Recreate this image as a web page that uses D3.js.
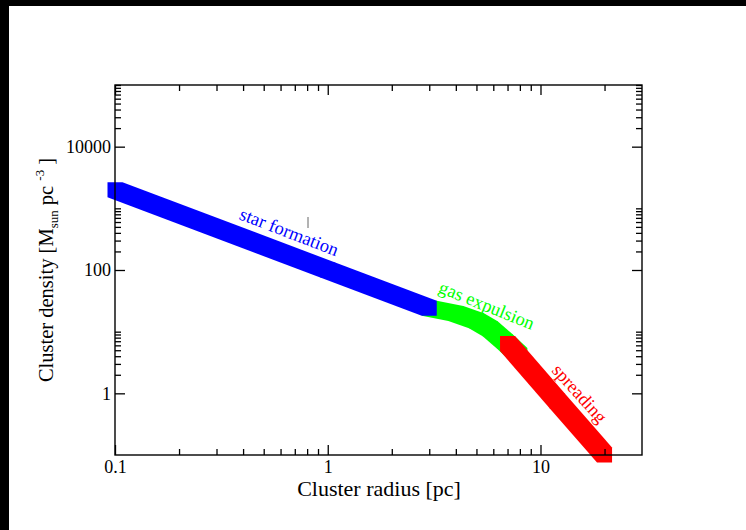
<!DOCTYPE html>
<html>
<head>
<meta charset="utf-8">
<script src="https://cdn.jsdelivr.net/npm/d3@7"></script>
<style>
	body { margin: 0; background: #fff; }
	svg { display: block; font-family: "Liberation Serif", "Times New Roman", serif; }
	.axis text { font-size: 18px; fill: #000; font-family: "Liberation Serif", serif; }
	.axis line { stroke: #000; stroke-width: 1.3; }
	.axis path { display: none; }
</style>
</head>
<body>
<svg id="chart" width="746" height="530"></svg>
<script>
// evolution tracks: radius [pc] vs density [Msun pc^-3]
const starFormationR = [0.1, 1, 3];
const starFormationRho = [2000, 100, 24];
const gasExpulsionR = [3, 4, 5, 5.8, 6.8, 8];
const gasExpulsionRho = [24, 19.7, 15, 11.2, 6.9, 4.1];
const spreadingR = [7, 12, 20];
const spreadingRho = [6.4, 0.75, 0.1];

// ticks
const xMajor = [0.1, 1, 10];
const xMinor = [0.2, 0.3, 0.4, 0.5, 0.6, 0.7, 0.8, 0.9, 2, 3, 4, 5, 6, 7, 8, 9, 20];
const yMajor = [1, 100, 10000];
const yMinor = [2, 3, 4, 5, 6, 7, 8, 9, 10, 200, 300, 400, 500, 600, 700, 800, 900, 1000,
	20000, 30000, 40000, 50000, 60000, 70000, 80000, 90000, 100000];

const margin = { top: 85, right: 104, bottom: 75, left: 115 };
const W = 746, H = 530;
const width = W - margin.left - margin.right;
const height = H - margin.top - margin.bottom;
const pen = 7.5; // half size of the square pen

const svg = d3.select('#chart');

// black edges of the original screenshot
svg.append('rect').attr('x', 0).attr('y', 0).attr('width', W).attr('height', 6).attr('fill', '#000');
svg.append('rect').attr('x', 0).attr('y', 0).attr('width', 9).attr('height', H).attr('fill', '#000');

const g = svg.append('g').attr('transform', `translate(${margin.left},${margin.top})`);

const x = d3.scaleLog().domain([0.1, 30]).range([0, width]);
const y = d3.scaleLog().domain([0.1, 1e5]).range([height, 0]);

// tracks drawn as a square pen swept along the points
const trackPolys = (rs, rhos) => {
	const pts = rs.map((r, i) => [x(r), y(rhos[i])]);
	const sq = p => [[p[0] - pen, p[1] - pen], [p[0] + pen, p[1] - pen],
		[p[0] + pen, p[1] + pen], [p[0] - pen, p[1] + pen]];
	return d3.pairs(pts).map(([a, b]) => d3.polygonHull(sq(a).concat(sq(b))));
};

const tracks = [
	{ r: gasExpulsionR, rho: gasExpulsionRho, color: '#00ff00' },
	{ r: starFormationR, rho: starFormationRho, color: '#0000ff' },
	{ r: spreadingR, rho: spreadingRho, color: '#ff0000' }
];

tracks.forEach(t => {
	g.append('g')
		.selectAll('path')
		.data(trackPolys(t.r, t.rho))
		.join('path')
			.attr('d', p => 'M' + p.join('L') + 'Z')
			.attr('fill', t.color);
});

// frame
g.append('rect')
	.attr('width', width)
	.attr('height', height)
	.attr('fill', 'none')
	.attr('stroke', '#000')
	.attr('stroke-width', 1.4);

// major + minor ticks, pointing inward
g.append('g').attr('class', 'axis').attr('transform', `translate(0,${height})`)
	.call(d3.axisBottom(x).tickValues(xMajor).tickSizeInner(-10).tickSizeOuter(0)
		.tickPadding(5).tickFormat(d => d));
g.append('g').attr('class', 'axis').attr('transform', `translate(0,${height})`)
	.call(d3.axisBottom(x).tickValues(xMinor).tickSizeInner(-6).tickSizeOuter(0).tickFormat(''));
g.append('g').attr('class', 'axis')
	.call(d3.axisTop(x).tickValues(xMajor).tickSizeInner(-10).tickSizeOuter(0).tickFormat(''));
g.append('g').attr('class', 'axis')
	.call(d3.axisTop(x).tickValues(xMinor).tickSizeInner(-6).tickSizeOuter(0).tickFormat(''));

g.append('g').attr('class', 'axis')
	.call(d3.axisLeft(y).tickValues(yMajor).tickSizeInner(-10).tickSizeOuter(0)
		.tickPadding(4).tickFormat(d => d));
g.append('g').attr('class', 'axis')
	.call(d3.axisLeft(y).tickValues(yMinor).tickSizeInner(-6).tickSizeOuter(0).tickFormat(''));
g.append('g').attr('class', 'axis').attr('transform', `translate(${width},0)`)
	.call(d3.axisRight(y).tickValues(yMajor).tickSizeInner(-10).tickSizeOuter(0).tickFormat(''));
g.append('g').attr('class', 'axis').attr('transform', `translate(${width},0)`)
	.call(d3.axisRight(y).tickValues(yMinor).tickSizeInner(-6).tickSizeOuter(0).tickFormat(''));

// stage labels
const labels = [
	{ text: 'star formation', r: 0.66, rho: 420, angle: 21, color: '#0000ff' },
	{ text: 'gas expulsion', r: 5.6, rho: 27, angle: 22, color: '#00ff00' },
	{ text: 'spreading', r: 15.3, rho: 1.0, angle: 48, color: '#ff0000' }
];
g.selectAll('.stage')
	.data(labels)
	.join('text')
		.attr('class', 'stage')
		.attr('transform', d => `translate(${x(d.r)},${y(d.rho)}) rotate(${d.angle})`)
		.attr('text-anchor', 'middle')
		.attr('dy', '0.35em')
		.attr('font-size', 18.5)
		.attr('fill', d => d.color)
		.text(d => d.text);

// small stray mark in the original
g.append('line')
	.attr('x1', 193).attr('x2', 193).attr('y1', 132).attr('y2', 143)
	.attr('stroke', '#666').attr('stroke-width', 1);

// axis titles
svg.append('text')
	.attr('x', 379)
	.attr('y', 496)
	.attr('text-anchor', 'middle')
	.attr('font-size', 22)
	.text('Cluster radius [pc]');

const yTitle = svg.append('text')
	.attr('transform', 'translate(53,270) rotate(-90)')
	.attr('text-anchor', 'middle')
	.attr('font-size', 20.5);
yTitle.append('tspan').text('Cluster density [M');
yTitle.append('tspan').attr('font-size', 13).attr('dy', 5).text('sun');
yTitle.append('tspan').attr('dy', -5).text(' pc ');
yTitle.append('tspan').attr('font-size', 13).attr('dy', -9).text('-3');
yTitle.append('tspan').attr('dy', 9).text(' ]');
</script>
</body>
</html>
